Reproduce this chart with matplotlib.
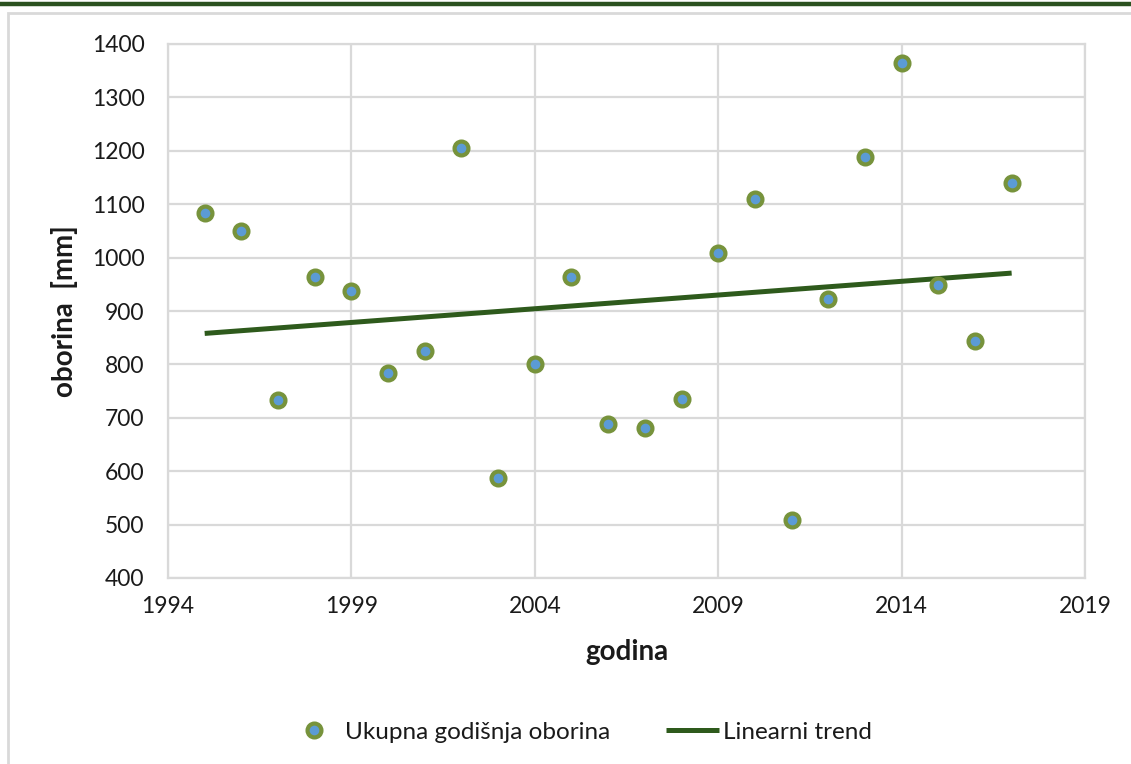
import matplotlib
matplotlib.use("Agg")
import matplotlib.pyplot as plt
from matplotlib.lines import Line2D
from matplotlib.patches import Rectangle

plt.rcParams['font.family'] = ['Lato', 'DejaVu Sans']

# data
godine = [1995, 1996, 1997, 1998, 1999, 2000, 2001, 2002, 2003, 2004, 2005, 2006,
          2007, 2008, 2009, 2010, 2011, 2012, 2013, 2014, 2015, 2016, 2017]
oborina = [1083, 1049, 733, 963, 937, 783, 826, 1205, 587, 800, 963, 688,
           680, 735, 1008, 1109, 509, 922, 1188, 1365, 949, 843, 1140]
trend_godine = [1995, 2017]
trend_oborina = [858, 971]
xticks = [1994, 1999, 2004, 2009, 2014, 2019]
yticks = [400, 500, 600, 700, 800, 900, 1000, 1100, 1200, 1300, 1400]

green_mark = '#77933C'
blue_mark = '#5B9BD5'
trend_col = '#2E5A1C'
grid_col = '#D9D9D9'
txt_col = '#1a1a1a'

fig = plt.figure(figsize=(11.31, 7.64), dpi=100)

# outer frame and top bar
fig.add_artist(Rectangle((8 / 1131, -0.01), 1.05, 1 - 13 / 764 + 0.01,
                         transform=fig.transFigure, fill=False,
                         edgecolor=grid_col, linewidth=2))
fig.add_artist(Line2D([0, 1], [1 - 4 / 764, 1 - 4 / 764], transform=fig.transFigure,
                      color='#2B5220', linewidth=3.2))

ax = fig.add_axes([168 / 1131, 1 - 578 / 764, (1085 - 168) / 1131, (578 - 44) / 764])
ax.set_xlim(1994, 2019)
ax.set_ylim(400, 1400)
ax.set_xticks(xticks)
ax.set_yticks(yticks)
ax.grid(True, color=grid_col, linewidth=1.6)
ax.set_axisbelow(True)
for s in ax.spines.values():
    s.set_color(grid_col)
    s.set_linewidth(1.6)
ax.tick_params(length=0, labelsize=16.5, colors=txt_col)
ax.tick_params(axis='x', pad=13)
ax.tick_params(axis='y', pad=17)

ax.plot(trend_godine, trend_oborina, color=trend_col, linewidth=3.6,
        solid_capstyle='butt', zorder=2, label='Linearni trend')
ax.plot(godine, oborina, linestyle='none', marker='o', markersize=10,
        markerfacecolor=blue_mark, markeredgecolor=green_mark, markeredgewidth=3,
        zorder=3, label='Ukupna godišnja oborina')

ax.set_xlabel('godina', fontsize=20, fontweight='bold', color=txt_col, labelpad=16)
ax.set_ylabel('oborina  [mm]', fontsize=20, fontweight='bold', color=txt_col, labelpad=10)

h, l = ax.get_legend_handles_labels()
fig.legend([h[1], h[0]], [l[1], l[0]], loc='center', bbox_to_anchor=(0.5125, 1 - 732 / 764),
           ncol=2, frameon=False, fontsize=17.5, handlelength=2.2, handletextpad=0.15,
           columnspacing=2.3, labelcolor=txt_col)

fig.savefig('out.png', dpi=100)
